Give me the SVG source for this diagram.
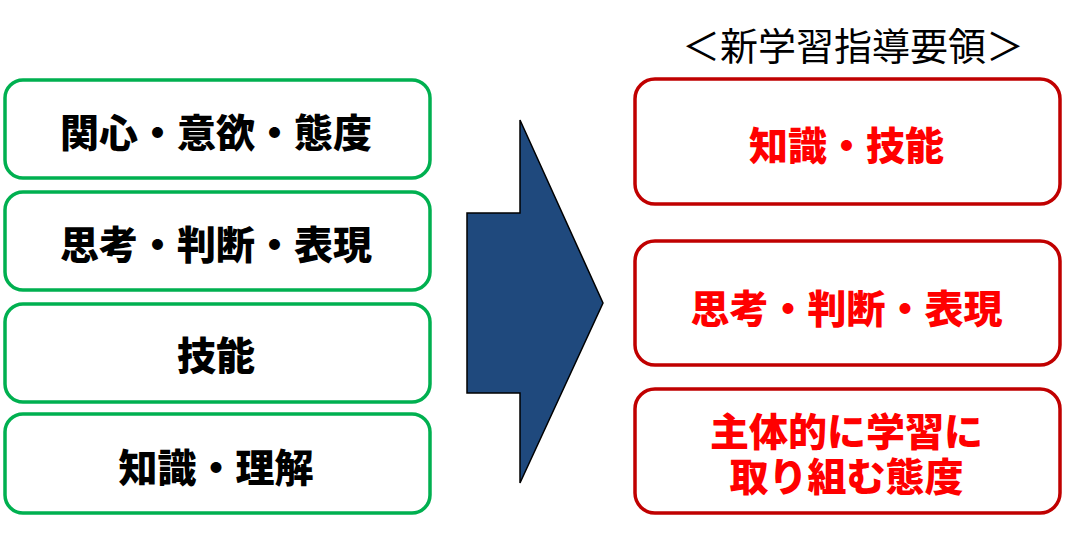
<svg xmlns="http://www.w3.org/2000/svg" width="1071" height="550" viewBox="0 0 1071 550">
<style>
.g{fill:#fff;stroke:#00B050;stroke-width:3.5}
.r{fill:#fff;stroke:#C00000;stroke-width:3.5}
.t{font-family:"Noto Sans CJK JP","Noto Sans CJK SC",sans-serif;font-weight:900;font-size:39px;text-anchor:middle}
.k{fill:#000}
.red{fill:#FF0000}
.title{font-family:"Noto Sans CJK JP","Noto Sans CJK SC",sans-serif;font-weight:400;font-size:38px;text-anchor:middle;fill:#000}
</style>
<rect width="1071" height="550" fill="#fff"/>
<g id="title"><text class="title" x="853" y="60">＜新学習指導要領＞</text></g>
<g id="old1"><rect class="g" x="5" y="80" width="425" height="98" rx="18"/><text class="t k" x="216" y="147">関心・意欲・態度</text></g>
<g id="old2"><rect class="g" x="5" y="192" width="425" height="98" rx="18"/><text class="t k" x="216" y="259">思考・判断・表現</text></g>
<g id="old3"><rect class="g" x="5" y="304" width="425" height="98" rx="18"/><text class="t k" x="216" y="370">技能</text></g>
<g id="old4"><rect class="g" x="5" y="414" width="425" height="99" rx="18"/><text class="t k" x="216" y="482">知識・理解</text></g>
<g id="connectors"><polygon points="467,213 520,213 520,120 603,303 520,483 520,393 467,393" fill="#1F497D" stroke="#000" stroke-width="1.5"/></g>
<g id="new1"><rect class="r" x="635" y="79" width="425" height="125" rx="20"/><text class="t red" x="846.5" y="160">知識・技能</text></g>
<g id="new2"><rect class="r" x="635" y="241" width="425" height="124" rx="20"/><text class="t red" x="846.5" y="323">思考・判断・表現</text></g>
<g id="new3"><rect class="r" x="635" y="389" width="425" height="124" rx="20"/><text class="t red" x="846.5" y="446"><tspan x="846.5" y="446">主体的に学習に</tspan><tspan x="846.5" y="491">取り組む態度</tspan></text></g>
</svg>
